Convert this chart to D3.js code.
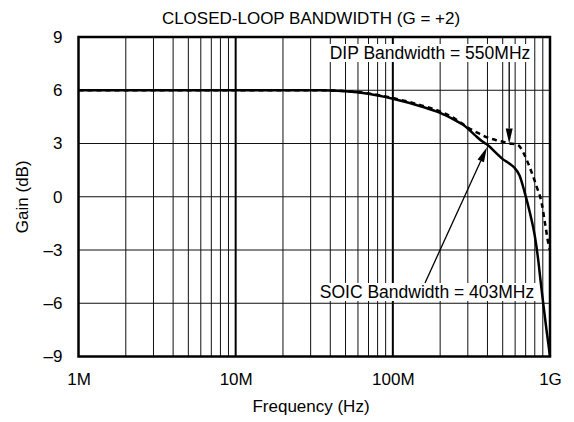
<!DOCTYPE html>
<html>
<head>
<meta charset="utf-8">
<script src="https://cdn.jsdelivr.net/npm/d3@7"></script>
<style>
  html, body { margin: 0; padding: 0; background: #fff; }
  svg { display: block; font-family: "Liberation Sans", Arial, Helvetica, sans-serif; }
</style>
</head>
<body>
<svg id="chart" width="574" height="422"></svg>
<script>
// Frequency points (MHz) and closed-loop gain (dB) for each package
const soicFreq = [1, 10, 30, 40, 50, 70, 100, 150, 200, 250, 280, 330, 370, 403, 450, 500, 550, 590, 640, 690, 745, 800, 840, 870, 905, 950, 1000];
const soicGain = [6.0, 6.0, 6.0, 5.99, 5.95, 5.8, 5.52, 5.1, 4.72, 4.3, 4.06, 3.5, 3.12, 2.9, 2.5, 2.12, 1.88, 1.66, 1.2, 0.25, -0.9, -2.2, -3.5, -4.7, -6.0, -7.5, -9.0];

const dipFreq = [1, 10, 30, 40, 50, 70, 100, 150, 200, 250, 300, 350, 400, 450, 500, 550, 600, 630, 680, 740, 820, 885, 930, 975, 1000];
const dipGain = [6.0, 6.0, 6.0, 5.99, 5.96, 5.82, 5.56, 5.16, 4.8, 4.38, 3.9, 3.58, 3.34, 3.2, 3.1, 3.0, 2.97, 2.9, 2.45, 1.7, 0.6, -0.35, -1.5, -2.6, -3.0];

// Axis ticks
const xTickFreq = [1, 10, 100, 1000];
const xTickLabels = ["1M", "10M", "100M", "1G"];
const yTicks = [9, 6, 3, 0, -3, -6, -9];

// Annotations: bandwidth labels
const dipBandwidth = 550;
const soicBandwidth = 403;
const dipLabel = "DIP Bandwidth = 550MHz";
const soicLabel = "SOIC Bandwidth = 403MHz";

const svg = d3.select("#chart");
const plotL = 78.5, plotR = 550, plotT = 37, plotB = 356.5;
const fontSize = 17;

const x = d3.scaleLog().domain([1, 1000]).range([plotL, plotR]);
const y = d3.scaleLinear().domain([-9, 9]).range([plotB, plotT]);

// Title
svg.append("text")
  .attr("x", 311).attr("y", 24)
  .attr("text-anchor", "middle").attr("font-size", fontSize)
  .text("CLOSED-LOOP BANDWIDTH (G = +2)");

// Grid
const grid = svg.append("g");
const minor = [];
[1, 10, 100].forEach(d => { for (let k = 2; k <= 9; k++) minor.push(d * k); });
grid.selectAll("line.minor").data(minor).join("line")
  .attr("x1", d => x(d)).attr("x2", d => x(d))
  .attr("y1", plotT).attr("y2", plotB)
  .attr("stroke", "#111").attr("stroke-width", 1);
grid.selectAll("line.decade").data([10, 100]).join("line")
  .attr("x1", d => x(d)).attr("x2", d => x(d))
  .attr("y1", plotT).attr("y2", plotB)
  .attr("stroke", "#000").attr("stroke-width", 2);
grid.selectAll("line.h").data(yTicks.slice(1, -1)).join("line")
  .attr("x1", plotL).attr("x2", plotR)
  .attr("y1", d => y(d)).attr("y2", d => y(d))
  .attr("stroke", "#111").attr("stroke-width", 1);

// Axis tick labels via d3 axes (no domain / tick lines drawn)
const yAxis = svg.append("g").attr("transform", `translate(${plotL},0)`)
  .call(d3.axisLeft(y).tickValues(yTicks).tickSize(0).tickPadding(16)
    .tickFormat(d => d < 0 ? "\u2013" + Math.abs(d) : String(d)));
yAxis.select(".domain").remove();
yAxis.selectAll("text").attr("font-size", fontSize).attr("font-family", "Liberation Sans, Arial, sans-serif").attr("fill", "#000");

const xAxis = svg.append("g").attr("transform", `translate(0,${plotB})`)
  .call(d3.axisBottom(x).tickValues(xTickFreq).tickSize(0).tickPadding(16.5)
    .tickFormat((d, i) => xTickLabels[i]));
xAxis.select(".domain").remove();
xAxis.selectAll("text").attr("font-size", fontSize).attr("font-family", "Liberation Sans, Arial, sans-serif").attr("fill", "#000");

svg.append("text")
  .attr("x", 311).attr("y", 412)
  .attr("text-anchor", "middle").attr("font-size", fontSize)
  .text("Frequency (Hz)");
svg.append("text")
  .attr("transform", `translate(28,${(plotT + plotB) / 2}) rotate(-90)`)
  .attr("text-anchor", "middle").attr("font-size", fontSize)
  .text("Gain (dB)");

// Label boxes (white backing that hides the grid)
function labelBox(txt, cx, baseline) {
  const g = svg.append("g");
  const rect = g.append("rect").attr("fill", "#fff");
  const t = g.append("text").attr("x", cx).attr("y", baseline)
    .attr("text-anchor", "middle").attr("font-size", 17.5).text(txt);
  const bb = t.node().getBBox();
  rect.attr("x", bb.x - 2).attr("y", bb.y + 1).attr("width", bb.width + 4).attr("height", bb.height - 2);
  return bb;
}

// Curves
const line = d3.line().x(d => x(d[0])).y(d => y(d[1])).curve(d3.curveMonotoneX);
const dipPts = dipFreq.map((f, i) => [f, dipGain[i]]);
const soicPts = soicFreq.map((f, i) => [f, soicGain[i]]);

svg.append("path").attr("d", line(dipPts))
  .attr("fill", "none").attr("stroke", "#000").attr("stroke-width", 2.5)
  .attr("stroke-dasharray", "5,4");

// Frame
svg.append("rect").attr("x", plotL).attr("y", plotT)
  .attr("width", plotR - plotL).attr("height", plotB - plotT)
  .attr("fill", "none").attr("stroke", "#000").attr("stroke-width", 2.5);

svg.append("path").attr("d", line(soicPts))
  .attr("fill", "none").attr("stroke", "#000").attr("stroke-width", 2.5);

const dipBB = labelBox(dipLabel, 430, 59);
const soicBB = labelBox(soicLabel, 427, 298);

// Arrows
function arrow(x1, y1, x2, y2) {
  const ang = Math.atan2(y2 - y1, x2 - x1);
  const len = 15, half = 3.5;
  const bx = x2 - len * Math.cos(ang), by = y2 - len * Math.sin(ang);
  svg.append("line").attr("x1", x1).attr("y1", y1).attr("x2", bx).attr("y2", by)
    .attr("stroke", "#000").attr("stroke-width", 1.3);
  const px = -Math.sin(ang) * half, py = Math.cos(ang) * half;
  svg.append("path")
    .attr("d", `M${x2},${y2}L${bx + px},${by + py}L${bx - px},${by - py}Z`)
    .attr("fill", "#000");
}
const soicAt = d3.scaleLog().domain(soicFreq).range(soicGain);
arrow(x(dipBandwidth), dipBB.y + dipBB.height - 1, x(dipBandwidth), y(3.0));
arrow(425, soicBB.y + 1, x(soicBandwidth) - 1, y(soicAt(soicBandwidth)) + 2);
</script>
</body>
</html>
